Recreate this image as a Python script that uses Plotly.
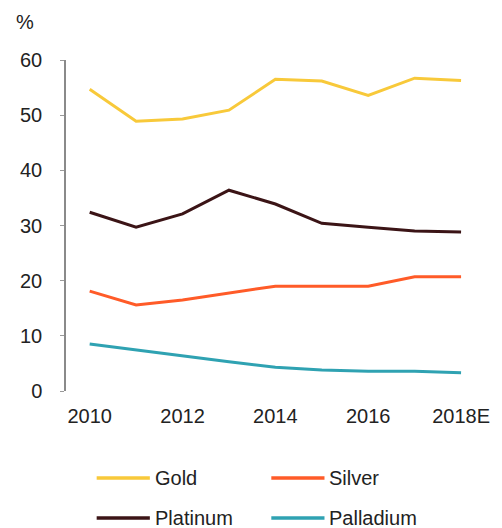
import plotly.graph_objects as go

years = [2010, 2011, 2012, 2013, 2014, 2015, 2016, 2017, 2018]
tick_vals = [2010, 2012, 2014, 2016, 2018]
tick_text = ["2010", "2012", "2014", "2016", "2018E"]

gold = [54.7, 48.9, 49.3, 50.9, 56.5, 56.2, 53.6, 56.7, 56.3]
silver = [18.1, 15.6, 16.5, 17.8, 19.0, 19.0, 19.0, 20.7, 20.7]
platinum = [32.4, 29.7, 32.1, 36.4, 33.9, 30.4, 29.7, 29.0, 28.8]
palladium = [8.5, 7.4, 6.3, 5.3, 4.3, 3.8, 3.6, 3.6, 3.3]

names = ["Gold", "Silver", "Platinum", "Palladium"]
series = [gold, silver, platinum, palladium]
colors = ["#F8C93A", "#FF5B28", "#3B1416", "#2FA2B2"]

FONT = "Liberation Sans, Arial, sans-serif"
TXT = "#222222"
FS = 20

fig = go.Figure()
for n, s, c in zip(names, series, colors):
    fig.add_trace(go.Scatter(x=years, y=s, name=n, mode="lines",
                             line=dict(color=c, width=3), showlegend=False))

# manual legend (two columns, two rows)
leg_pos = [(0.075, -0.263), (0.502, -0.263), (0.075, -0.384), (0.502, -0.384)]
for (lx, ly), n, c in zip(leg_pos, names, colors):
    fig.add_shape(type="line", xref="paper", yref="paper",
                  x0=lx, x1=lx + 0.13, y0=ly, y1=ly,
                  line=dict(color=c, width=3.5))
    fig.add_annotation(xref="paper", yref="paper", x=lx + 0.137, y=ly,
                       text=n, showarrow=False, xanchor="left", yanchor="middle",
                       font=dict(size=FS, color=TXT, family=FONT))

fig.add_annotation(xref="paper", yref="paper", x=-0.127, y=1.115, text="%",
                   showarrow=False, xanchor="left", yanchor="middle",
                   font=dict(size=FS, color=TXT, family=FONT))

fig.update_layout(
    width=502, height=528,
    margin=dict(l=66, r=22, t=60, b=137),
    paper_bgcolor="white", plot_bgcolor="white",
    font=dict(family=FONT, size=FS, color=TXT),
    xaxis=dict(range=[2009.49, 2018.3], tickvals=tick_vals, ticktext=tick_text,
               showgrid=False, zeroline=False, showline=False, ticks="",
               ticklabelstandoff=11, tickfont=dict(size=FS, color=TXT)),
    yaxis=dict(range=[0, 60], tickvals=[0, 10, 20, 30, 40, 50, 60],
               showgrid=False, zeroline=False, showline=True,
               linecolor="#8a8a8a", linewidth=1.5,
               ticks="outside", ticklen=4, tickcolor="#9a9a9a", tickwidth=1,
               ticklabelstandoff=14, tickfont=dict(size=FS, color=TXT)),
)

fig.write_html("out.html")
